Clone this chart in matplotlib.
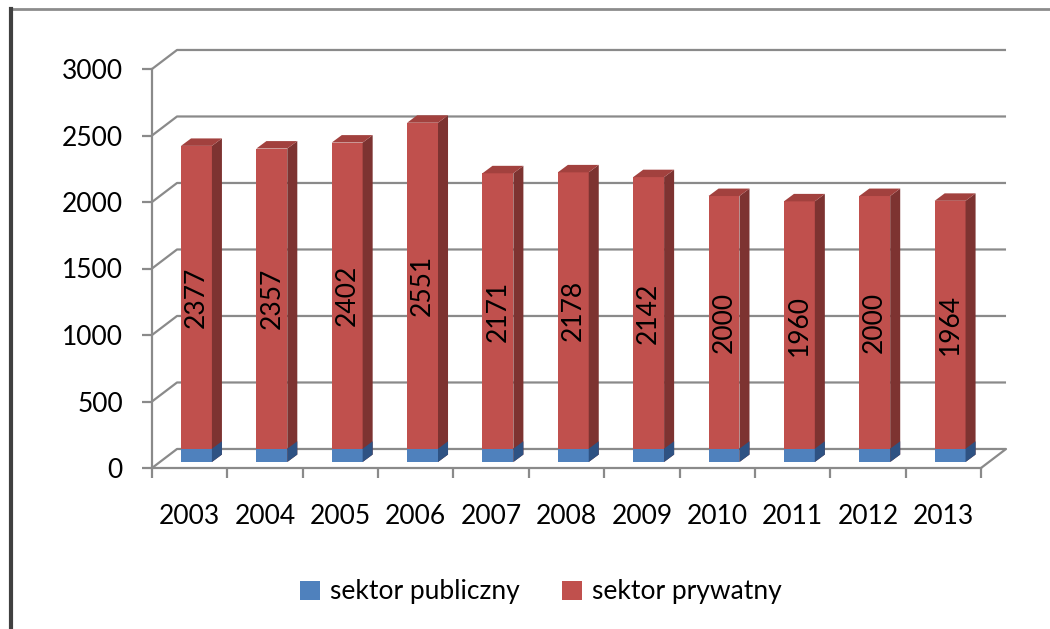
import matplotlib
matplotlib.use("Agg")
import matplotlib.pyplot as plt
from matplotlib.patches import Polygon, Patch
from matplotlib.lines import Line2D
import numpy as np

plt.rcParams['font.family'] = ['Lato', 'DejaVu Sans']

years = ['2003', '2004', '2005', '2006', '2007', '2008', '2009', '2010', '2011', '2012', '2013']
public = [100, 100, 100, 100, 100, 100, 100, 100, 100, 100, 100]
private = [2377, 2357, 2402, 2551, 2171, 2178, 2142, 2000, 1960, 2000, 1964]
yticks = [0, 500, 1000, 1500, 2000, 2500, 3000]
series_names = ['sektor publiczny', 'sektor prywatny']

RED, RED_SIDE, RED_TOP = '#C0504D', '#7D3331', '#A2413E'
BLUE, BLUE_SIDE = '#4F81BD', '#2E5283'
GRID = '#8A8A8A'
FS = 19

fig = plt.figure(figsize=(10.5, 6.29), dpi=100)
ax = fig.add_axes([152/1050, 161/629, 829/1050, 399/629])
ax.set_xlim(-0.5, 10.5)
ax.set_ylim(0, 3000)

# 3D offsets (category units, value units)
WX, WY = 0.332, 143
BX, BY = 0.09, 45
DX, DY = 0.133, 56
W = 0.41

# back wall gridlines
for v in yticks:
    if v == 0:
        continue
    ax.plot([-0.5, -0.5 + WX, 10.5 + WX], [v, v + WY, v + WY], color=GRID, lw=1.6,
            clip_on=False, zorder=1, solid_capstyle='butt')
# floor
ax.plot([-0.5, -0.5 + WX, 10.5 + WX, 10.5], [0, WY, WY, 0], color=GRID, lw=1.6,
        clip_on=False, zorder=1)

xs = np.arange(len(years))
ax.bar(xs + BX, private, bottom=BY, width=W, color=RED, zorder=3, clip_on=False)
ax.bar(xs + BX, public, bottom=BY, width=W, color=BLUE, zorder=4, clip_on=False)

for x, pv, pu in zip(xs, private, public):
    xr = x + BX + W / 2
    xl = x + BX - W / 2
    top = BY + pv
    ax.add_patch(Polygon([(xr, BY), (xr + DX, BY + DY), (xr + DX, top + DY), (xr, top)],
                         closed=True, facecolor=RED_SIDE, edgecolor='none', zorder=3, clip_on=False))
    ax.add_patch(Polygon([(xl, top), (xr, top), (xr + DX, top + DY), (xl + DX, top + DY)],
                         closed=True, facecolor=RED_TOP, edgecolor='none', zorder=3, clip_on=False))
    ax.add_patch(Polygon([(xr, BY), (xr + DX, BY + DY), (xr + DX, BY + pu + DY), (xr, BY + pu)],
                         closed=True, facecolor=BLUE_SIDE, edgecolor='none', zorder=4, clip_on=False))
    ax.text(x + BX, BY + (pu + pv) / 2, str(pv), rotation=90, ha='center', va='center',
            fontsize=FS, color='#000000', zorder=6)

for s in ['top', 'right']:
    ax.spines[s].set_visible(False)
for s in ['left', 'bottom']:
    ax.spines[s].set_color(GRID)
    ax.spines[s].set_linewidth(1.6)
    ax.spines[s].set_zorder(2)
ax.set_yticks(yticks)
ax.set_yticklabels([str(v) for v in yticks], fontsize=FS)
ax.tick_params(axis='y', length=7, width=1.6, color=GRID, pad=14)
ax.set_xticks(xs)
ax.set_xticklabels(years, fontsize=FS)
ax.set_xticks(np.arange(-0.5, 11, 1), minor=True)
ax.tick_params(axis='x', which='major', length=0, pad=26)
ax.tick_params(axis='x', which='minor', length=7, width=1.6, color=GRID)
ax.set_facecolor('none')

handles = [Patch(facecolor=BLUE, edgecolor='none'), Patch(facecolor=RED, edgecolor='none')]
fig.legend(handles, series_names, loc='center', bbox_to_anchor=(541/1050, 1 - 592/629),
           ncol=2, frameon=False, fontsize=FS, handlelength=0.75, handleheight=0.75,
           handletextpad=0.4, columnspacing=1.6)

fig.add_artist(Line2D([10/1050, 1.0], [1 - 9/629, 1 - 9/629], color='#8C8C8C', lw=2,
                      transform=fig.transFigure))
fig.add_artist(Line2D([11/1050, 11/1050], [0, 1 - 9/629], color='#404040', lw=3,
                      transform=fig.transFigure))

fig.savefig('out.png', dpi=100)
